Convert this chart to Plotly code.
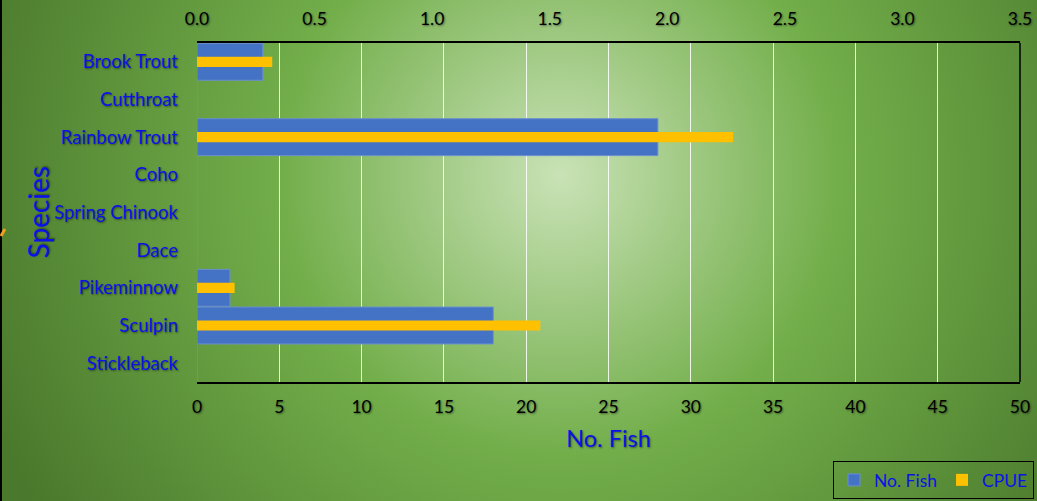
import base64
import plotly.graph_objects as go

species = ["Brook Trout", "Cutthroat", "Rainbow Trout", "Coho", "Spring Chinook",
           "Dace", "Pikeminnow", "Sculpin", "Stickleback"]
no_fish = [4, 0, 28, 0, 0, 0, 2, 18, 0]
cpue = [0.32, 0, 2.28, 0, 0, 0, 0.16, 1.46, 0]

W, H = 1037, 501
L, R, T, B = 197, 17, 43, 119
PW, PH = W - L - R, H - T - B

svg = f'''<svg xmlns="http://www.w3.org/2000/svg" width="{W}" height="{H}">
<defs><radialGradient id="g" gradientUnits="userSpaceOnUse" cx="560" cy="175" r="620">
<stop offset="0" stop-color="#c9e2b6"/>
<stop offset="0.45" stop-color="#72ae4a"/>
<stop offset="1" stop-color="#4a782c"/>
</radialGradient></defs>
<rect width="{W}" height="{H}" fill="url(#g)"/></svg>'''
src = "data:image/svg+xml;base64," + base64.b64encode(svg.encode()).decode()

BLUE_TXT = "#0a12e6"
shadow = "1px 1px 2px rgba(0,0,0,0.45)"
FONT = "Lato"

fig = go.Figure()
fig.add_trace(go.Bar(
    y=species, x=no_fish, orientation="h", name="No. Fish",
    marker=dict(color="#4472C4", line=dict(color="#6a8fcf", width=1)),
    width=0.98, xaxis="x", yaxis="y"))
fig.add_trace(go.Bar(
    y=species, x=cpue, orientation="h", name="CPUE",
    marker=dict(color="#FFC000", line=dict(width=0)),
    width=0.27, xaxis="x2", yaxis="y"))

fig.update_layout(
    template="none",
    width=W, height=H, autosize=False,
    margin=dict(l=L, r=R, t=T, b=B, pad=0, autoexpand=False),
    paper_bgcolor="rgba(0,0,0,0)", plot_bgcolor="rgba(0,0,0,0)",
    barmode="overlay",
    font=dict(family=FONT, size=15, color="black"),
    images=[dict(source=src, xref="paper", yref="paper",
                 x=-L / PW, y=1 + T / PH, sizex=W / PW, sizey=H / PH,
                 xanchor="left", yanchor="top", sizing="stretch", layer="below")],
    xaxis=dict(range=[0, 50], dtick=5, showgrid=True, gridcolor="rgba(255,255,255,0.85)",
               gridwidth=1.3, showline=True, linecolor="black", linewidth=1.5,
               zeroline=False, ticks="", ticklabelstandoff=8, automargin=False,
               tickfont=dict(family=FONT, size=17.5, color="black", shadow=shadow),
               title=dict(text="No. Fish", standoff=15,
                          font=dict(family=FONT, size=23.5, color=BLUE_TXT, shadow=shadow))),
    xaxis2=dict(range=[0, 3.5], dtick=0.5, tickformat=".1f", overlaying="x", side="top",
                showgrid=False, showline=True, linecolor="black", linewidth=1.5,
                zeroline=False, ticks="", ticklabelstandoff=9, automargin=False,
                tickfont=dict(family=FONT, size=17.5, color="black", shadow=shadow)),
    yaxis=dict(autorange="reversed", showgrid=False, showline=False, zeroline=False,
               ticks="", ticklabelstandoff=18, automargin=False,
               tickfont=dict(family=FONT, size=18.5, color=BLUE_TXT, shadow=shadow)),
    legend=dict(orientation="h", x=(1034 - L) / PW, xanchor="right",
                y=-(499 - PH - T) / PH, yanchor="bottom",
                bgcolor="rgba(0,0,0,0)", bordercolor="black", borderwidth=1,
                font=dict(family=FONT, size=17.5, color=BLUE_TXT),
                itemwidth=30, tracegroupgap=0),
    showlegend=True,
    annotations=[dict(text="Species", xref="paper", yref="paper",
                      x=(37 - L) / PW, y=0.5, xanchor="center", yanchor="middle",
                      textangle=-90, showarrow=False,
                      font=dict(family=FONT, size=28, color=BLUE_TXT, shadow=shadow))],
    shapes=[
        dict(type="line", xref="paper", yref="paper", x0=1, x1=1, y0=0, y1=1,
             line=dict(color="black", width=1.5)),
        dict(type="line", xref="paper", yref="paper", x0=-(L - 1) / PW, x1=-(L - 1) / PW,
             y0=-B / PH, y1=1 + T / PH, line=dict(color="black", width=2)),
        dict(type="line", xref="paper", yref="paper", x0=-(L - 1) / PW, x1=-(L - 5) / PW,
             y0=1 - (236 - T) / PH, y1=1 - (229 - T) / PH, line=dict(color="#f0a020", width=3)),
    ],
)

fig.write_html("out.html", config={"displayModeBar": False},
               post_script="document.body.style.margin='0';")
